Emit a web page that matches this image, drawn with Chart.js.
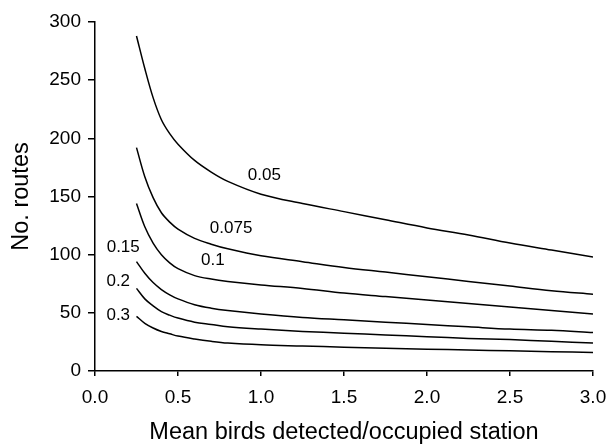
<!DOCTYPE html>
<html>
<head>
<meta charset="utf-8">
<script src="https://cdn.jsdelivr.net/npm/chart.js@4.4.1/dist/chart.umd.min.js"></script>
<style>
  html, body { margin: 0; padding: 0; background: #fff; }
  canvas { display: block; }
</style>
</head>
<body>
<canvas id="chart" width="607" height="447"></canvas>
<script>
// mean birds detected per occupied station
const birds = [0.25, 0.3, 0.35, 0.4, 0.45, 0.5, 0.6, 0.7, 0.8, 1.0, 1.25, 1.5, 1.75, 2.0, 2.25, 2.5, 2.75, 3.0]

// number of routes needed, one curve per value
const routes005 = [288, 260, 235, 216, 204, 195, 181, 171, 163, 152, 144, 137, 130, 123, 117, 110, 104, 98]
const routes0075 = [192, 167, 149, 136, 128, 122, 114, 109, 105, 99, 94, 89, 85, 81, 77, 73, 69, 66]
const routes01 = [144, 124, 110, 100, 93, 88, 82, 79, 77, 74, 71, 67, 64, 61, 58, 55, 52, 49]
const routes015 = [94, 84, 76, 70, 65.5, 62, 57, 54, 52, 49, 46, 44, 42, 40, 38, 36, 35, 33]
const routes02 = [71, 62, 56, 51, 48, 45.5, 42, 40, 38, 36, 34, 32.5, 31, 29.5, 28, 27, 25.5, 24]
const routes03 = [47, 41, 37, 34, 32, 30, 27.5, 25.5, 24, 22.5, 21.5, 20.5, 19.5, 18.8, 18, 17.3, 16.6, 16]

const curveNames = ['0.05', '0.075', '0.1', '0.15', '0.2', '0.3']
const curves = [routes005, routes0075, routes01, routes015, routes02, routes03]

// where each curve's name sits, in axis units
const nameAtX = [1.02, 0.82, 0.71, 0.17, 0.14, 0.14]
const nameAtY = [168, 123, 95, 106, 77, 48]

const yTicks = [0, 50, 100, 150, 200, 250, 300]

const font = '"Liberation Sans", Arial, sans-serif'

const curveLabels = {
  id: 'curveLabels',
  afterDatasetsDraw(chart) {
    const {ctx, scales: {x, y}} = chart
    ctx.save()
    ctx.fillStyle = '#000'
    ctx.font = '17px ' + font
    ctx.textAlign = 'center'
    ctx.textBaseline = 'middle'
    curveNames.forEach((name, i) => {
      ctx.fillText(name, x.getPixelForValue(nameAtX[i]), y.getPixelForValue(nameAtY[i]))
    })
    ctx.restore()
  }
}

// keep the plot box where the original has it, labels may overhang
const noOverhang = (scale) => {
  scale.paddingLeft = 0
  scale.paddingRight = 0
  scale.paddingTop = 0
  scale.paddingBottom = 0
}

new Chart(document.getElementById('chart').getContext('2d'), {
  type: 'line',
  data: {
    datasets: curves.map((values, i) => ({
      label: curveNames[i],
      data: birds.map((b, j) => ({x: b, y: values[j]})),
      borderColor: '#000',
      borderWidth: 1.5,
      pointRadius: 0,
      fill: false,
      tension: 0.35
    }))
  },
  options: {
    responsive: false,
    animation: false,
    layout: {padding: {top: 22, right: 14, left: 0, bottom: 0}},
    plugins: {
      legend: {display: false},
      tooltip: {enabled: false}
    },
    scales: {
      x: {
        type: 'linear',
        min: 0,
        max: 3,
        afterFit: (scale) => { scale.height = 76; noOverhang(scale) },
        border: {display: true, color: '#000', width: 1.5},
        grid: {drawOnChartArea: false, drawTicks: true, tickLength: 5, color: '#000', lineWidth: 1.5},
        ticks: {
          stepSize: 0.5,
          padding: 10,
          color: '#000',
          font: {family: font, size: 19},
          maxRotation: 0,
          callback: (v) => v.toFixed(1)
        },
        title: {
          display: true,
          text: 'Mean birds detected/occupied station',
          color: '#000',
          font: {family: font, size: 23.5},
          padding: {top: 0, bottom: 0}
        }
      },
      y: {
        type: 'linear',
        min: 0,
        max: 300,
        afterFit: (scale) => { scale.width = 95; noOverhang(scale) },
        afterBuildTicks: (scale) => { scale.ticks = yTicks.map(v => ({value: v})) },
        border: {display: true, color: '#000', width: 1.5},
        grid: {drawOnChartArea: false, drawTicks: true, tickLength: 7, color: '#000', lineWidth: 1.5},
        ticks: {
          padding: 7,
          color: '#000',
          font: {family: font, size: 19}
        },
        title: {
          display: true,
          text: 'No. routes',
          color: '#000',
          font: {family: font, size: 23.5},
          padding: {top: 7, bottom: 0}
        }
      }
    }
  },
  plugins: [curveLabels]
})
</script>
</body>
</html>
